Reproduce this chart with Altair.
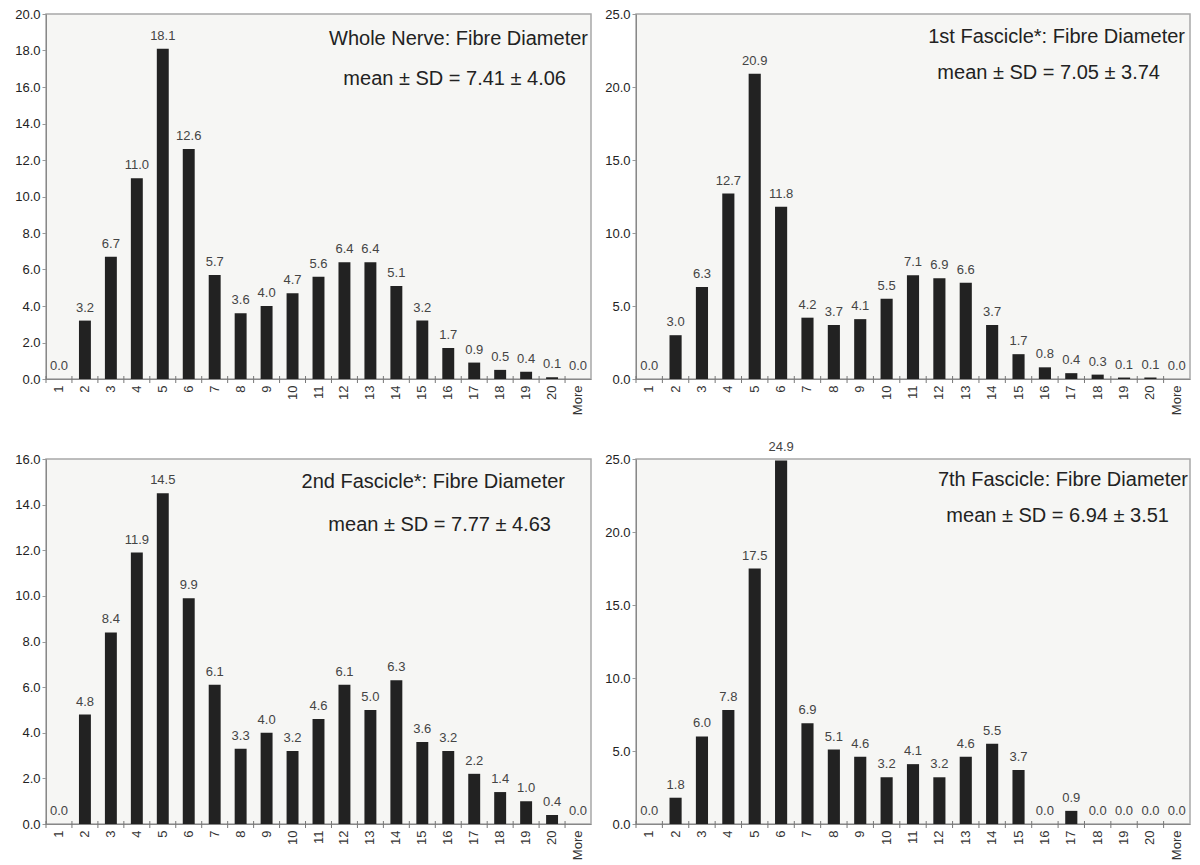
import altair as alt
import pandas as pd

cats = ["1", "2", "3", "4", "5", "6", "7", "8", "9", "10", "11", "12", "13", "14",
        "15", "16", "17", "18", "19", "20", "More"]

whole_nerve = [0.0, 3.2, 6.7, 11.0, 18.1, 12.6, 5.7, 3.6, 4.0, 4.7, 5.6, 6.4, 6.4, 5.1,
               3.2, 1.7, 0.9, 0.5, 0.4, 0.1, 0.0]
fascicle_1 = [0.0, 3.0, 6.3, 12.7, 20.9, 11.8, 4.2, 3.7, 4.1, 5.5, 7.1, 6.9, 6.6, 3.7,
              1.7, 0.8, 0.4, 0.3, 0.1, 0.1, 0.0]
fascicle_2 = [0.0, 4.8, 8.4, 11.9, 14.5, 9.9, 6.1, 3.3, 4.0, 3.2, 4.6, 6.1, 5.0, 6.3,
              3.6, 3.2, 2.2, 1.4, 1.0, 0.4, 0.0]
fascicle_7 = [0.0, 1.8, 6.0, 7.8, 17.5, 24.9, 6.9, 5.1, 4.6, 3.2, 4.1, 3.2, 4.6, 5.5,
              3.7, 0.0, 0.9, 0.0, 0.0, 0.0, 0.0]

titles = ["Whole Nerve: Fibre Diameter", "1st Fascicle*: Fibre Diameter",
          "2nd Fascicle*: Fibre Diameter", "7th Fascicle: Fibre Diameter"]
stats = ["mean \u00b1 SD = 7.41 \u00b1 4.06", "mean \u00b1 SD = 7.05 \u00b1 3.74",
         "mean \u00b1 SD = 7.77 \u00b1 4.63", "mean \u00b1 SD = 6.94 \u00b1 3.51"]
y_max = [20, 25, 16, 25]
y_step = [2, 5, 2, 5]

FONT = "Liberation Sans Narrow, Arial Narrow, Liberation Sans, Arial, sans-serif"
H = 365
widths = [545, 554, 545, 554]

# title placement (pixel offsets within plot: right inset, y centre)
title_pos = [(3, 25, 25, 65), (5, 23, 30, 59), (26, 23, 40, 66), (2, 21, 21, 57)]


def panel(values, title, stat, ymax, step, pos, W):
    df = pd.DataFrame({"cat": cats, "v": values})
    df["lab"] = [f"{v:.1f}" for v in values]
    ticks = [round(i * step, 1) for i in range(int(ymax / step) + 1)]
    xenc = alt.X("cat:N", sort=cats,
                 scale=alt.Scale(paddingInner=0, paddingOuter=0),
                 axis=alt.Axis(title=None, labelAngle=-90, labelFont=FONT, labelFontSize=13,
                               labelColor="#333", ticks=False, domain=True,
                               domainColor="#888", labelPadding=6))
    yenc = alt.Y("v:Q", scale=alt.Scale(domain=[0, ymax], nice=False, zero=True),
                 axis=alt.Axis(title=None, values=ticks, tickCount=len(ticks), format=".1f",
                               grid=False, labelFont=FONT, labelFontSize=13, labelColor="#222",
                               labelOverlap=False, labelFlush=False,
                               tickSize=4, tickColor="#999", domainColor="#888",
                               labelPadding=2))
    base = alt.Chart(df)
    bars = base.mark_bar(color="#222222", width=alt.RelativeBandSize(0.46)).encode(x=xenc, y=yenc)
    labels = base.mark_text(baseline="bottom", dy=-6, font=FONT, fontSize=13,
                            color="#444").encode(
        x=alt.X("cat:N", sort=cats), y=alt.Y("v:Q"), text="lab:N")
    xticks = base.mark_rule(color="#777", strokeWidth=1).encode(
        x=alt.X("cat:N", sort=cats, bandPosition=0),
        y=alt.value(H - 3), y2=alt.value(H + 4))
    tdf = pd.DataFrame({"t": [title], "s": [stat]})
    t1 = alt.Chart(tdf).mark_text(align="right", baseline="middle", font=FONT,
                                  fontSize=20, color="#222").encode(
        x=alt.value(W - pos[0]), y=alt.value(pos[1]), text="t:N")
    t2 = alt.Chart(tdf).mark_text(align="right", baseline="middle", font=FONT,
                                  fontSize=20, color="#222").encode(
        x=alt.value(W - pos[2]), y=alt.value(pos[3]), text="s:N")
    return alt.layer(bars, labels, xticks, t1, t2).properties(width=W, height=H)


series = [whole_nerve, fascicle_1, fascicle_2, fascicle_7]
panels = [panel(series[i], titles[i], stats[i], y_max[i], y_step[i], title_pos[i], widths[i])
          for i in range(4)]

row1 = alt.hconcat(panels[0], panels[1], spacing=11)
row2 = alt.hconcat(panels[2], panels[3], spacing=11)
chart = alt.vconcat(row1, row2, spacing=24).properties(
    padding={"left": 13, "top": 7, "right": 5, "bottom": 0},
    background="white",
).configure_view(fill="#f6f6f4", stroke="#a8a8a8", strokeWidth=1.5)

chart.save("out.html", embed_options={"renderer": "svg", "actions": False})
